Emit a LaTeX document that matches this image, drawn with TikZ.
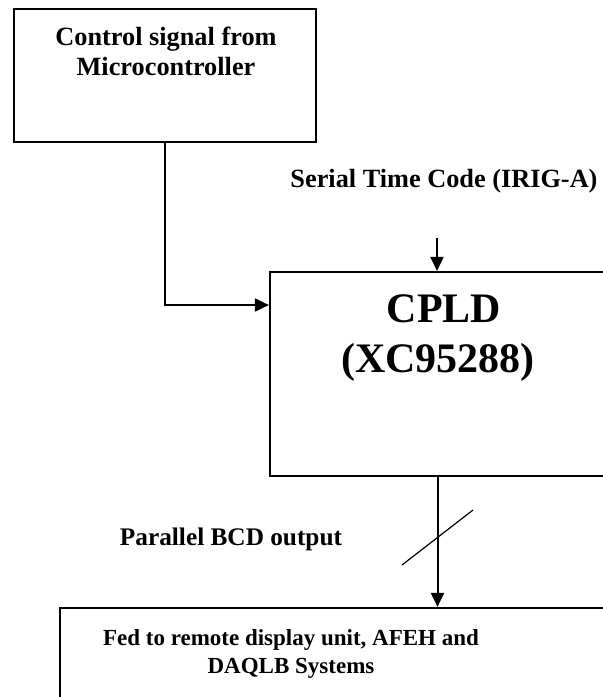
\documentclass[tikz,border=0pt]{standalone}
\usepackage{fontspec}
\setmainfont{Liberation Serif}
\usetikzlibrary{arrows.meta}
\begin{document}
\begin{tikzpicture}[x=1pt,y=-1pt,
  box/.style={draw,line width=2.2pt,rectangle,inner sep=0pt},
  lbl/.style={font=\fontsize{26.3}{30}\selectfont\bfseries,inner sep=0pt,anchor=base},
  lblp/.style={font=\fontsize{25.3}{30}\selectfont\bfseries,inner sep=0pt,anchor=base},
  lbls/.style={font=\fontsize{23}{28}\selectfont\bfseries,inner sep=0pt,anchor=base},
  big/.style={font=\fontsize{42}{50}\selectfont\bfseries,inner sep=0pt,anchor=base},
  conn/.style={line width=2pt,-{Triangle[length=14pt,width=13pt]}},
  slashln/.style={line width=1.2pt}]
\useasboundingbox (0,0) rectangle (603,697);
\clip (0,0) rectangle (603,697);
\fill[white] (0,0) rectangle (603,697);
% boxes
\node[box,minimum width=302pt,minimum height=133pt] (top) at (165,75.5) {};
\node[box,minimum width=370pt,minimum height=204pt] (cpld) at (455,374) {};
\node[box,minimum width=580pt,minimum height=132pt] (bot) at (350,674) {};
% texts
\node[lbl] (t1) at (166,45) {Control signal from};
\node[lbl] (t2) at (166,75) {Microcontroller};
\node[lbl] (ser) at (444,187) {Serial Time Code (IRIG-A)};
\node[big] (c1) at (444,322) {CPLD};
\node[big] (c2) at (438,372) {(XC95288)};
\node[lblp] (par) at (231,545) {Parallel BCD output};
\node[lbls] (b1) at (291,645) {Fed to remote display unit, AFEH and};
\node[lbls] (b2) at (291,673) {DAQLB Systems};
% connectors
\coordinate (s) at (437,238);
\coordinate (ax) at (437.5,0);
\coordinate (sl1) at (402,565);
\coordinate (sl2) at (473,510);
\draw[conn] (top.south) |- ([yshift=69pt]cpld.west);
\draw[conn] (s) -- (s |- cpld.north);
\draw[conn] (ax |- cpld.south) -- (ax |- bot.north);
\draw[slashln] (sl1) -- (sl2);
\end{tikzpicture}
\end{document}
